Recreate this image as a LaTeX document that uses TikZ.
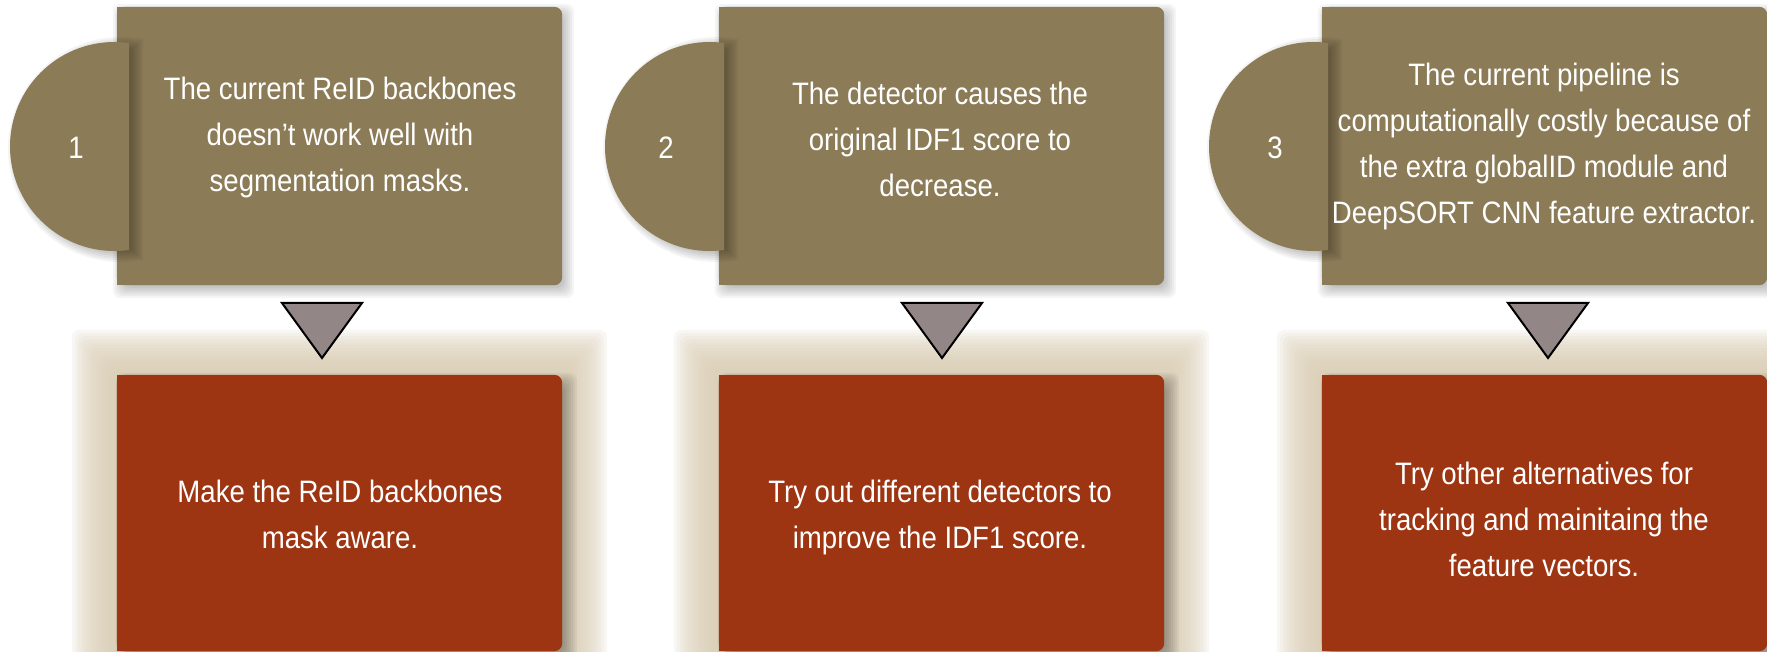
\documentclass[tikz,border=0pt]{standalone}
\usepackage{fontspec}
\setmainfont{Liberation Sans}[FakeStretch=0.89]
\usetikzlibrary{calc}

\definecolor{olivebox}{RGB}{139,123,87}
\definecolor{rustbox}{RGB}{157,53,18}
\definecolor{markgray}{RGB}{146,134,134}
\definecolor{glowbeige}{RGB}{220,207,182}

\tikzset{
  boxframe/.style={rectangle, inner sep=0pt, minimum width=445pt, minimum height=278pt},
  txt/.style={text=white, align=center, inner sep=0pt, font=\fontsize{31}{46}\selectfont},
  num/.style={text=white, inner sep=0pt, font=\fontsize{31}{37}\selectfont},
  marker/.style={fill=markgray, draw=black, line width=2pt, line join=miter},
}

\begin{document}
\begin{tikzpicture}[x=1pt,y=-1pt]
\useasboundingbox (0,0) rectangle (1767,652);
\fill[white] (0,0) rectangle (1767,652);

% frames of the upper (problem) and lower (remedy) boxes
\foreach \L/\i in {117/1, 719/2, 1322/3} {
  \node[boxframe] (p\i) at (\L+222.5,146) {};
  \node[boxframe, minimum height=276pt] (q\i) at (\L+222.5,513) {};
}

% soft beige halo and grey drop shadow behind the lower boxes
\foreach \i in {1,2,3} {
  \foreach \k in {1,...,15}
    \fill[glowbeige, opacity=0.15, rounded corners=8pt]
      ($(q\i.south west)+(-3*\k,3*\k)$) rectangle ($(q\i.north east)+(3*\k,-3*\k)$);
  \foreach \e in {-6,-4,...,8}
    \fill[black, opacity=0.045, rounded corners=8pt]
      ($(q\i.south west)+(7-\e,6+\e)$) rectangle ($(q\i.north east)+(7+\e,6-\e)$);
}

% drop shadow of the upper boxes
\foreach \i in {1,2,3} {
  \foreach \e in {-6,-4,...,8}
    \fill[black, opacity=0.04, rounded corners=8pt]
      ($(p\i.south west)+(4-\e,5+\e)$) rectangle ($(p\i.north east)+(4+\e,5-\e)$);
}

% upper boxes: rounded on the right, square on the left
\foreach \i in {1,2,3} {
  \fill[olivebox, rounded corners=8pt] (p\i.south west) rectangle (p\i.north east);
  \fill[olivebox] (p\i.south west) rectangle (p\i.north);
}

% number tabs: a disc cut by a vertical edge, casting a shadow on the box
\foreach \C in {10,605,1209} {
  \foreach \e in {-4,-2,...,8} {
    \begin{scope}
      \clip (\C-40,0) rectangle (\C+125+\e,652);
      \fill[black, opacity=0.045] (\C+110.5,149.5) circle[radius=104.5pt+\e pt];
    \end{scope}
  }
  \begin{scope}
    \clip (\C-10,0) rectangle (\C+119,652);
    \fill[olivebox] (\C+104.5,146.5) circle[radius=104.5pt];
  \end{scope}
}

% lower boxes
\foreach \i in {1,2,3} {
  \fill[rustbox, rounded corners=8pt] (q\i.south west) rectangle (q\i.north east);
  \fill[rustbox] (q\i.south west) rectangle (q\i.north);
}

% downward markers between the rows
\foreach \T in {322,942,1548}
  \draw[marker] (\T-40,303) -- (\T+40,303) -- (\T,358) -- cycle;

% numbers
\node[num] (n1) at (76,148) {1};
\node[num] (n2) at (666,148) {2};
\node[num] (n3) at (1275,148) {3};

% problem statements
\node[txt] (t1) at (340,136.8) {\strut The current ReID backbones\\\strut doesn’t work well with\\\strut segmentation masks.};
\node[txt] (t2) at (940,141.8) {\strut The detector causes the\\\strut original IDF1 score to\\\strut decrease.};
\node[txt] (t3) at (1544,145.8) {\strut The current pipeline is\\\strut computationally costly because of\\\strut the extra globalID module and\\\strut DeepSORT CNN feature extractor.};

% remedies
\node[txt] (b1) at (340,516.3) {\strut Make the ReID backbones\\\strut mask aware.};
\node[txt] (b2) at (940,516.3) {\strut Try out different detectors to\\\strut improve the IDF1 score.};
\node[txt] (b3) at (1544,521.3) {\strut Try other alternatives for\\\strut tracking and mainitaing the\\\strut feature vectors.};
\end{tikzpicture}
\end{document}
